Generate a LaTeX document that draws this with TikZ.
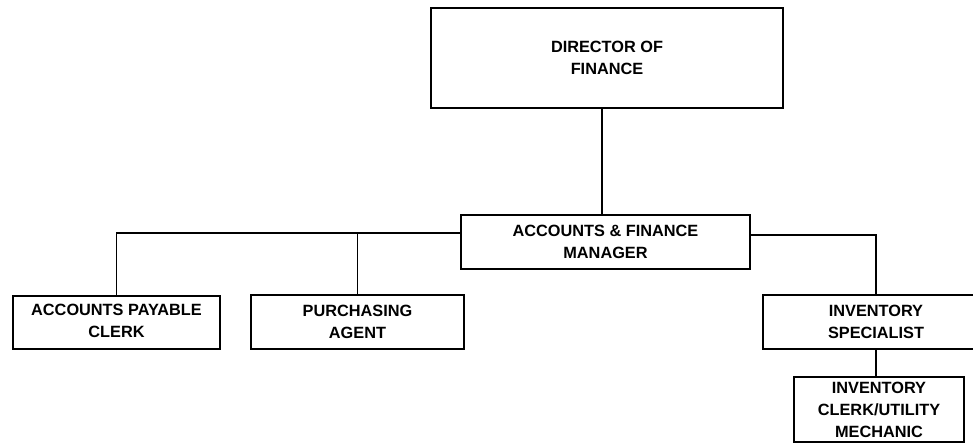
\documentclass[tikz,border=0pt]{standalone}
\usepackage{fontspec}
\setmainfont{Liberation Sans}
\begin{document}
\begin{tikzpicture}[x=1pt,y=-1pt,
  box/.style={draw=black, line width=1.9pt, rectangle, inner sep=0pt, align=center,
    font=\fontsize{16.3}{22}\selectfont\bfseries},
  conn/.style={draw=black, line width=1.4pt}]
  \useasboundingbox (0,0) rectangle (973,444);
  \clip (0,0) rectangle (973,444);

  % positions
  \node[box, minimum width=352pt, minimum height=100pt] (dir) at (607,58) {DIRECTOR OF\\FINANCE};
  \node[box, minimum width=289pt, minimum height=54pt] (mgr) at (605.5,242) {ACCOUNTS \& FINANCE\\MANAGER};
  \node[box, minimum width=207pt, minimum height=53pt] (ap) at (116.5,322.5) {ACCOUNTS PAYABLE\\CLERK\rule[-4pt]{0pt}{0pt}};
  \node[box, minimum width=213pt, minimum height=54pt] (pur) at (357.5,322) {PURCHASING\\AGENT};
  \node[box, minimum width=226pt, minimum height=54pt] (inv) at (876,322) {INVENTORY\\SPECIALIST};
  \node[box, minimum width=170pt, minimum height=65pt] (clerk) at (879,409.5) {INVENTORY\\CLERK/UTILITY\\MECHANIC};

  % connectors
  \draw[conn] ([xshift=-5pt]dir.south) -- ([xshift=-5pt]dir.south |- mgr.north);
  \coordinate (lj) at ([yshift=9pt]mgr.west);
  \draw[conn] (lj) -| (ap.north);
  \draw[conn] (pur.north |- lj) -- (pur.north);
  \draw[conn] ([yshift=7pt]mgr.east) -| (inv.north);
  \draw[conn] (inv.south) -- (inv.south |- clerk.north);
\end{tikzpicture}
\end{document}
